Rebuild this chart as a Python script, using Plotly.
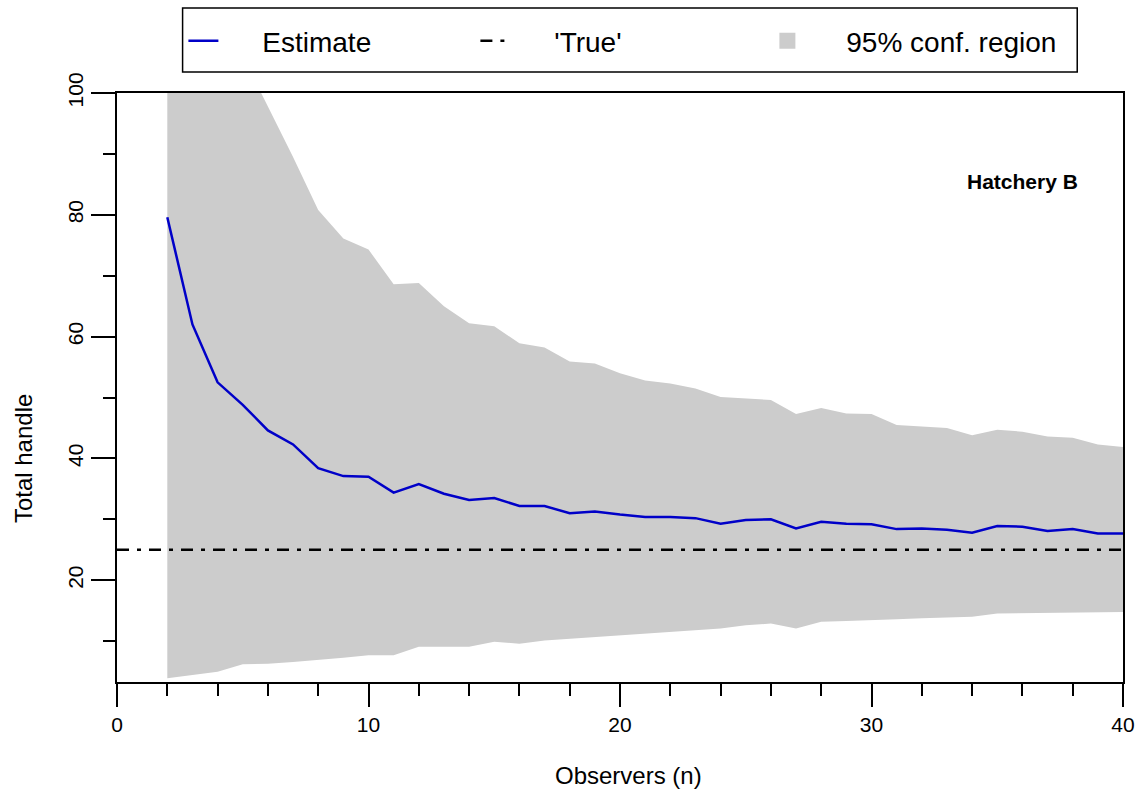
import plotly.graph_objects as go

# Observers (n)
n = list(range(2, 41))
# Estimated total handle
estimate = [79.6, 62.0, 52.5, 48.8, 44.6, 42.3, 38.4, 37.1, 37.0, 34.4,
            35.8, 34.2, 33.2, 33.5, 32.2, 32.2, 31.0, 31.3, 30.8, 30.4,
            30.4, 30.2, 29.3, 29.9, 30.0, 28.5, 29.6, 29.3, 29.2, 28.4,
            28.5, 28.3, 27.8, 28.9, 28.8, 28.1, 28.4, 27.7, 27.7]
# 95% confidence region bounds
upper = [160.0, 135.0, 118.0, 106.0, 97.8, 89.5, 80.8, 76.1, 74.3, 68.6,
         68.8, 65.0, 62.2, 61.7, 58.9, 58.2, 55.9, 55.6, 54.0, 52.8,
         52.3, 51.5, 50.1, 49.9, 49.6, 47.3, 48.3, 47.4, 47.3, 45.5,
         45.3, 45.0, 43.8, 44.7, 44.4, 43.6, 43.4, 42.3, 41.9]
lower = [3.9, 4.5, 5.0, 6.2, 6.3, 6.6, 6.9, 7.3, 7.7, 7.7,
         9.1, 9.1, 9.1, 9.9, 9.6, 10.1, 10.4, 10.7, 11.0, 11.3,
         11.6, 11.8, 12.1, 12.6, 12.9, 12.1, 13.2, 13.3, 13.5, 13.6,
         13.75, 13.9, 14.0, 14.55, 14.6, 14.7, 14.7, 14.8, 14.8]
true_value = 25
x_range = [0, 40]
y_range = [3.3, 100]
legend_labels = ["Estimate", "'True'", "95% conf. region"]

BAND = "#cccccc"
BLUE = "#0000c8"
FONT = "Liberation Sans, Arial, sans-serif"
PAD = "\u00a0" * 5

fig = go.Figure()
fig.add_trace(go.Scatter(x=n, y=lower, mode="lines", line=dict(width=0, color=BAND),
                         showlegend=False, hoverinfo="skip"))
fig.add_trace(go.Scatter(x=n, y=upper, mode="lines", line=dict(width=0, color=BAND),
                         fill="tonexty", fillcolor=BAND, showlegend=False, hoverinfo="skip"))
fig.add_trace(go.Scatter(x=n, y=estimate, mode="lines", name=PAD + legend_labels[0],
                         line=dict(color=BLUE, width=2.5)))
fig.add_trace(go.Scatter(x=x_range, y=[true_value, true_value], mode="lines",
                         name=PAD + legend_labels[1],
                         line=dict(color="black", width=2.5, dash="12px,8px,4px,8px")))
fig.add_trace(go.Scatter(x=[None], y=[None], mode="markers", name=PAD + legend_labels[2],
                         marker=dict(symbol="square", size=17, color=BAND)))

fig.add_annotation(x=0.9, y=0.85, xref="paper", yref="paper", text="<b>Hatchery B</b>",
                   xanchor="center", yanchor="middle",
                   showarrow=False, font=dict(size=21, color="black", family=FONT))
fig.add_annotation(x=-0.0935, y=0.38, xref="paper", yref="paper", text="Total handle",
                   xanchor="center", yanchor="middle", textangle=-90,
                   showarrow=False, font=dict(size=24, color="black", family=FONT))
fig.add_annotation(x=0.508, y=-0.158, xref="paper", yref="paper", text="Observers (n)",
                   xanchor="center", yanchor="middle",
                   showarrow=False, font=dict(size=24, color="black", family=FONT))

# legend frame
fig.add_shape(type="rect", xref="paper", yref="paper", x0=0.0652, x1=0.9545,
              y0=1.0357, y1=1.1443, line=dict(color="black", width=1.5), fillcolor="white",
              layer="below")

fig.update_layout(
    width=1147, height=796,
    margin=dict(l=117, r=18, t=93, b=114),
    paper_bgcolor="white", plot_bgcolor="white",
    font=dict(family=FONT, color="black"),
    legend=dict(orientation="h", x=0.066, y=1.088, xanchor="left", yanchor="middle",
                traceorder="normal", borderwidth=0, font=dict(size=28),
                entrywidth=247, entrywidthmode="pixels", bgcolor="rgba(0,0,0,0)"),
    xaxis=dict(range=x_range, showgrid=False, zeroline=False, showline=True, linecolor="black",
               linewidth=1.5, mirror=True, ticks="outside", ticklen=23, tickwidth=1.5,
               tickcolor="black", dtick=10, tick0=0, tickfont=dict(size=21),
               minor=dict(dtick=2, ticklen=12, tickwidth=1.5, tickcolor="black", ticks="outside")),
    yaxis=dict(range=y_range, showgrid=False, zeroline=False, showline=True, linecolor="black",
               linewidth=1.5, mirror=True, ticks="outside", ticklen=24, tickwidth=1.5,
               tickcolor="black", dtick=20, tick0=0, tickangle=-90, tickfont=dict(size=21),
               minor=dict(dtick=10, ticklen=12, tickwidth=1.5, tickcolor="black", ticks="outside")),
)

fig.write_html("out.html")
